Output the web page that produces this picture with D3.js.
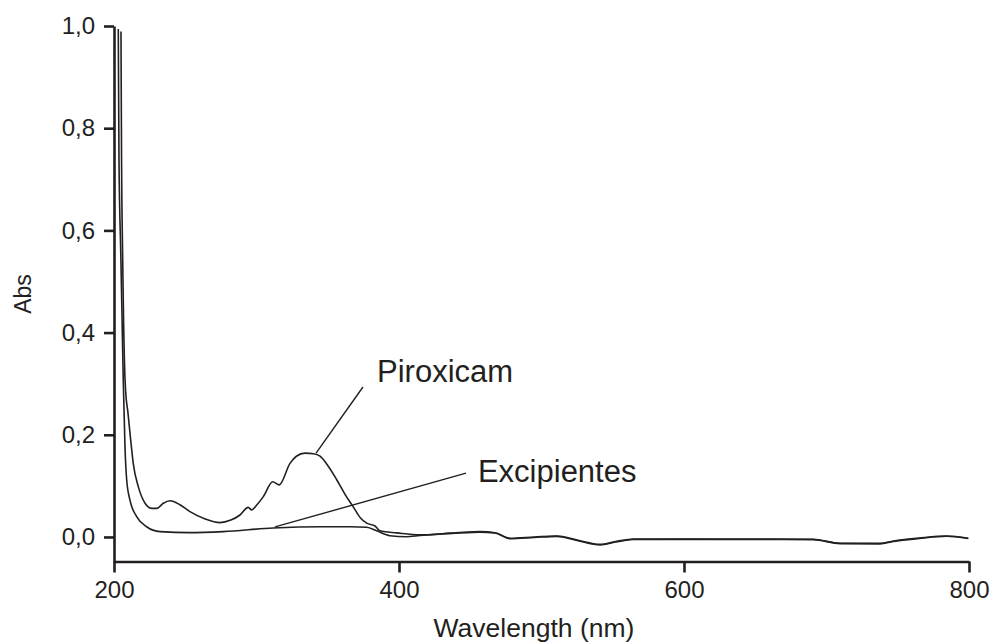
<!DOCTYPE html>
<html>
<head>
<meta charset="utf-8">
<script src="https://cdn.jsdelivr.net/npm/d3@7"></script>
<style>
  body { margin: 0; background: #fff; }
  text { font-family: "Liberation Sans", Arial, sans-serif; fill: #231f20; }
</style>
</head>
<body>
<svg id="chart" width="991" height="643"></svg>
<script>
// spectra: [wavelength nm, absorbance]
var piroxicam = [
  [204.9, 0.989], [205.3, 0.74], [206.0, 0.562], [206.7, 0.425], [207.3, 0.346],
  [208.1, 0.288], [209.8, 0.243], [211.7, 0.190], [213.5, 0.144], [217.1, 0.098], [221.8, 0.066],
  [226.5, 0.056], [230.0, 0.056], [234.6, 0.066], [239.3, 0.071], [246.3, 0.063],
  [253.3, 0.0495], [264, 0.035], [274.4, 0.028], [282, 0.033], [288.4, 0.043], [294.2, 0.058],
  [296.6, 0.053], [300, 0.062], [304.8, 0.079], [311.4, 0.108], [316, 0.102],
  [323.5, 0.144], [328, 0.158], [334, 0.164], [340, 0.163], [344.6, 0.158], [350, 0.140],
  [356.3, 0.112], [362, 0.084], [367.9, 0.059], [373, 0.037], [377.3, 0.027], [383.2, 0.0215],
  [386.7, 0.012], [398.4, 0.008], [414.7, 0.004], [440, 0.008], [456.8, 0.0104], [467.4, 0.0084],
  [477.9, -0.0025], [495, 0.0], [510.7, 0.002], [525, -0.006], [541.1, -0.0143], [552, -0.009],
  [564.4, -0.004], [604.2, -0.004], [650, -0.004], [690.7, -0.0045], [709.5, -0.0123],
  [737.5, -0.0123], [746.9, -0.0078], [765, -0.002], [784.3, 0.002], [799.5, -0.0025]
];

var excipientes = [
  [203.0, 0.994], [203.5, 0.74], [204.8, 0.55], [205.7, 0.42], [206.5, 0.307],
  [207.7, 0.177], [208.9, 0.112], [211.2, 0.072], [215.9, 0.040], [222.9, 0.020],
  [232.3, 0.0104], [253.3, 0.0084], [276.7, 0.0105],
  [311.6, 0.0175], [346.7, 0.020], [366, 0.020], [377.3, 0.019], [384.4, 0.012],
  [393.7, 0.0025], [405, 0.0005], [414.7, 0.003], [440, 0.0075], [456.8, 0.0095],
  [467.4, 0.0076], [477.9, -0.0035], [495, -0.001], [510.7, 0.0012], [525, -0.007],
  [541.1, -0.0155], [552, -0.01], [564.4, -0.005], [604.2, -0.0048], [650, -0.005],
  [690.7, -0.0052], [709.5, -0.013], [737.5, -0.0135], [746.9, -0.0088], [765, -0.003],
  [784.3, 0.0015], [799.5, -0.003]
];

var xTicks = [200, 400, 600, 800];
var yTicks = [0, 0.2, 0.4, 0.6, 0.8, 1.0];

// labels with leader lines, positions in data units
var labels = [
  {text: 'Piroxicam', at: [384.6, 0.303], from: [374.7, 0.2935], to: [341.8, 0.164]},
  {text: 'Excipientes', at: [455.4, 0.108], from: [447, 0.125], to: [313, 0.0196]}
];

var svg = d3.select('#chart');
var ink = '#231f20';

var x = d3.scaleLinear().domain([200, 800]).range([114, 969]);
var y = d3.scaleLinear().domain([-0.049, 1.0]).range([562, 26]);

var fmt = function(d) { return d3.format('.1f')(d).replace('.', ','); };

//-----------------------------------------------------------------------------
var xAxis = svg.append('g')
    .attr('transform', 'translate(0,561.5)')
    .call(d3.axisBottom(x).tickValues(xTicks).tickSize(11).tickSizeOuter(0).tickPadding(8));

var yAxis = svg.append('g')
    .attr('transform', 'translate(114,0)')
    .call(d3.axisLeft(y).tickValues(yTicks).tickFormat(fmt).tickSize(10).tickSizeOuter(0).tickPadding(9));

[xAxis, yAxis].forEach(function(g) {
    g.select('.domain').attr('stroke', ink).attr('stroke-width', 2.6);
    g.selectAll('.tick line').attr('stroke', ink).attr('stroke-width', 2.6);
    g.selectAll('.tick text')
        .style('font-size', '24px')
        .style('font-family', '"Liberation Sans", Arial, sans-serif')
        .attr('fill', ink);
});

svg.append('text')
    .attr('x', 534)
    .attr('y', 637)
    .attr('text-anchor', 'middle')
    .style('font-size', '26.5px')
    .text('Wavelength (nm)');

svg.append('text')
    .attr('transform', 'translate(31,294) rotate(-90)')
    .attr('text-anchor', 'middle')
    .style('font-size', '23px')
    .text('Abs');

//-----------------------------------------------------------------------------
var line = d3.line()
    .x(function(d) { return x(d[0]); })
    .y(function(d) { return y(d[1]); })
    .curve(d3.curveMonotoneX);

[piroxicam, excipientes].forEach(function(series) {
    svg.append('path')
        .datum(series)
        .attr('fill', 'none')
        .attr('stroke', ink)
        .attr('stroke-width', 1.6)
        .attr('d', line);
});

labels.forEach(function(l) {
    svg.append('line')
        .attr('x1', x(l.from[0])).attr('y1', y(l.from[1]))
        .attr('x2', x(l.to[0])).attr('y2', y(l.to[1]))
        .attr('stroke', ink)
        .attr('stroke-width', 1.4);
    svg.append('text')
        .attr('x', x(l.at[0]))
        .attr('y', y(l.at[1]))
        .style('font-size', '31px')
        .text(l.text);
});
</script>
</body>
</html>
